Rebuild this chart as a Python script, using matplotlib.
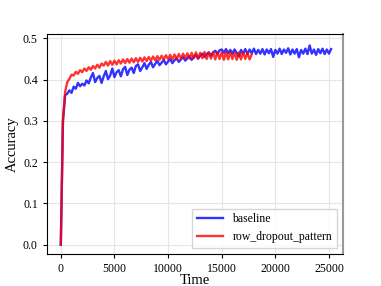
import numpy as np
from matplotlib import pyplot as plt

plt.rcParams['font.family'] = ['Liberation Serif', 'DejaVu Serif']

# accuracy logged every STEP time units
STEP = 200

baseline = [
	0.000, 0.300, 0.362, 0.366, 0.374, 0.368, 0.383, 0.378, 0.392, 0.384,
	0.390, 0.386, 0.398, 0.391, 0.405, 0.416, 0.394, 0.404, 0.409, 0.392,
	0.408, 0.421, 0.401, 0.410, 0.427, 0.406, 0.418, 0.423, 0.408, 0.425,
	0.431, 0.411, 0.424, 0.429, 0.416, 0.433, 0.437, 0.421, 0.430, 0.440,
	0.426, 0.436, 0.443, 0.430, 0.438, 0.446, 0.435, 0.441, 0.448, 0.437,
	0.444, 0.450, 0.440, 0.447, 0.452, 0.443, 0.449, 0.455, 0.446, 0.452,
	0.457, 0.448, 0.455, 0.460, 0.451, 0.458, 0.463, 0.455, 0.462, 0.466,
	0.458, 0.466, 0.470, 0.462, 0.471, 0.473, 0.465,
	0.474, 0.464, 0.472, 0.463, 0.473, 0.465, 0.456, 0.472, 0.463, 0.474,
	0.462, 0.473, 0.464, 0.475, 0.462, 0.472, 0.463, 0.474, 0.461, 0.473,
	0.464, 0.474, 0.455, 0.472, 0.463, 0.475, 0.462, 0.473, 0.465, 0.476,
	0.461, 0.473, 0.463, 0.474, 0.454, 0.472, 0.463, 0.475, 0.462, 0.483,
	0.463, 0.473, 0.460, 0.474, 0.464, 0.475, 0.462, 0.473, 0.463, 0.474,
]

row_dropout = [
	0.000, 0.300, 0.370, 0.394, 0.402, 0.412, 0.410, 0.419, 0.414, 0.423,
	0.418, 0.427, 0.421, 0.430, 0.424, 0.433, 0.427, 0.436, 0.429, 0.439,
	0.434, 0.443, 0.434, 0.445, 0.436, 0.446, 0.437, 0.447, 0.439, 0.449,
	0.440, 0.450, 0.441, 0.451, 0.442, 0.452, 0.443, 0.453, 0.444, 0.454,
	0.445,
	0.455, 0.446, 0.456, 0.447, 0.457, 0.448, 0.458, 0.449, 0.459, 0.450,
	0.460, 0.449, 0.461, 0.450, 0.462, 0.451, 0.463, 0.452, 0.464, 0.451,
	0.465, 0.452, 0.466, 0.451, 0.465, 0.452, 0.467, 0.450, 0.466, 0.451,
	0.466, 0.449, 0.467, 0.450, 0.466, 0.448, 0.467, 0.449, 0.466, 0.450,
	0.465, 0.448, 0.466, 0.449, 0.467, 0.450, 0.465, 0.449, 0.461,
]

t_base = np.arange(len(baseline)) * STEP
t_row = np.arange(len(row_dropout)) * STEP

fig = plt.figure(figsize=(3.81, 2.86), dpi=100)
ax = fig.add_axes([0.123, 0.112, 0.777, 0.769])

ax.plot(t_base, baseline, color='blue', alpha=0.8, lw=1.7, label='baseline')
ax.plot(t_row, row_dropout, color='red', alpha=0.8, lw=1.7, label='row_dropout_pattern')

ax.set_xlim(-1300, 26300)
ax.set_ylim(-0.0225, 0.5105)
ax.set_xticks([0, 5000, 10000, 15000, 20000, 25000])
ax.set_yticks([0.0, 0.1, 0.2, 0.3, 0.4, 0.5])
ax.tick_params(labelsize=8.5, length=3, width=0.8)
ax.grid(True, color='#e6e6e6', lw=0.8)
ax.set_axisbelow(True)

ax.set_xlabel('Time', fontsize=10.5, labelpad=-1)
ax.set_ylabel('Accuracy', fontsize=10.5, labelpad=3)
ax.spines['right'].set_color('#999999')
ax.spines['right'].set_linewidth(1.5)

ax.legend(loc='lower right', fontsize=8.5, fancybox=False, edgecolor='#cccccc',
	handlelength=2.2, borderaxespad=0.5)

fig.savefig('out.png', dpi=100)
